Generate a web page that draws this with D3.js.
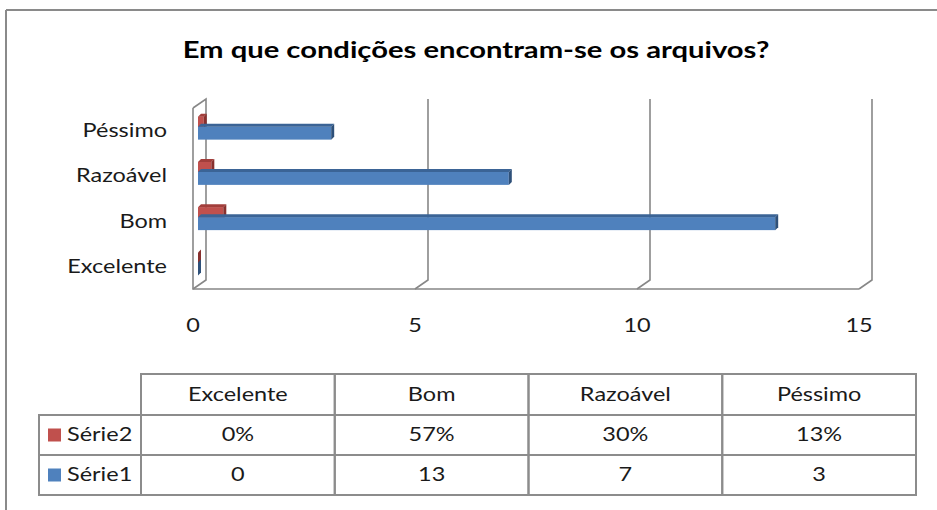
<!DOCTYPE html>
<html>
<head>
<meta charset="utf-8">
<script src="https://cdn.jsdelivr.net/npm/d3@7"></script>
<style>
  body { margin: 0; background: #fff; }
  svg { display: block; font-family: Lato, "Open Sans", sans-serif; }
  .lbl { font-size: 18.5px; fill: #1a1a1a; }
  .title { font-size: 23px; font-weight: bold; fill: #000; }
</style>
</head>
<body>
<div id="chart"></div>
<script>
// dados do gráfico
const categories = ['Excelente', 'Bom', 'Razoável', 'Péssimo'];
const serie1 = [0, 13, 7, 3];
const serie2 = [0, 0.57, 0.30, 0.13];
const seriesNames = ['Série1', 'Série2'];
const xTicks = [0, 5, 10, 15];
const title = 'Em que condições encontram-se os arquivos?';

const W = 937, H = 510;
const SX = 1.27; // o original está esticado na horizontal
const blue = { front: '#4F81BD', top: '#3B6496', side: '#2E5079' };
const red = { front: '#C0504D', top: '#A23E3B', side: '#87302E' };
const grid = '#878787';

const svg = d3.select('#chart').append('svg').attr('width', W).attr('height', H);

function txt(sel, x, y, s, anchor, cls) {
  return sel.append('text').attr('class', cls || 'lbl')
    .attr('transform', `translate(${x},${y}) scale(${SX},1)`)
    .attr('text-anchor', anchor || 'middle').attr('dy', '0.35em').text(s);
}

// moldura
svg.append('line').attr('x1', 6).attr('y1', 10).attr('x2', W).attr('y2', 10).attr('stroke', '#8a8a8a').attr('stroke-width', 2);
svg.append('line').attr('x1', 6).attr('y1', 10).attr('x2', 6).attr('y2', H).attr('stroke', '#8a8a8a').attr('stroke-width', 2);

txt(svg, 476, 50, title, 'middle', 'title');

const x = d3.scaleLinear().domain([0, 15]).range([193, 859]);
const y = d3.scaleBand().domain(categories).range([289, 108]);
const depth = [13, -9];
const floorY = 289, topY = 108;

// paredes e grade
const g = svg.append('g').attr('fill', 'none').attr('stroke', grid).attr('stroke-width', 1.6);
g.append('path').attr('d', `M${x(0)},${topY}L${x(0)},${floorY}L${x(15)},${floorY}`);
g.append('path').attr('d', `M${x(0)},${topY}L${x(0) + depth[0]},${topY + depth[1]}L${x(0) + depth[0]},${floorY + depth[1]}L${x(0)},${floorY}`);
xTicks.filter(t => t > 0).forEach(t => {
  g.append('path').attr('d', `M${x(t)},${floorY}L${x(t) + depth[0]},${floorY + depth[1]}L${x(t) + depth[0]},${topY + depth[1]}`);
});

const ticksG = svg.append('g');
xTicks.forEach(d => txt(ticksG, x(d), 326, d));

const catG = svg.append('g');
categories.forEach(c => txt(catG, 167, y(c) + y.bandwidth() / 2, c, 'end'));

// barras 3D
const bd = [3, -3];
const off = 5;
function bar3d(sel, v, yTop, h, c) {
  const x0 = x(0) + off, x1 = x(v) + off;
  sel.append('rect').attr('x', x0).attr('y', yTop).attr('width', x1 - x0).attr('height', h).attr('fill', c.front);
  sel.append('path').attr('fill', c.top)
    .attr('d', `M${x0},${yTop}L${x0 + bd[0]},${yTop + bd[1]}L${x1 + bd[0]},${yTop + bd[1]}L${x1},${yTop}Z`);
  sel.append('path').attr('fill', c.side)
    .attr('d', `M${x1},${yTop}L${x1 + bd[0]},${yTop + bd[1]}L${x1 + bd[0]},${yTop + h + bd[1]}L${x1},${yTop + h}Z`);
}
const bars = svg.append('g');
categories.forEach((c, i) => {
  const yc = y(c) + y.bandwidth() / 2;
  bar3d(bars.append('g'), serie2[i], yc - 14, 11.5, red);
  bar3d(bars.append('g'), serie1[i], yc - 4, 13, blue);
});

// tabela de dados
const colX = d3.scaleBand().domain(categories).range([141, 916]);
const legX = 39;
const rowH = 40;
const headTop = 374;
const rows = [
  { name: seriesNames[1], color: red.front, vals: serie2.map(d3.format('.0%')) },
  { name: seriesNames[0], color: blue.front, vals: serie1.map(String) }
];
const t = svg.append('g');
const tb = t.append('g').attr('fill', 'none').attr('stroke', '#8c8c8c').attr('stroke-width', 2);
tb.append('rect').attr('x', 141).attr('y', headTop).attr('width', 916 - 141).attr('height', 41);
categories.forEach(c => {
  tb.append('rect').attr('x', colX(c)).attr('y', headTop).attr('width', colX.bandwidth()).attr('height', 41 + rowH * 2);
  txt(t, colX(c) + colX.bandwidth() / 2, headTop + 20.5, c);
});
rows.forEach((r, ri) => {
  const ry = headTop + 41 + ri * rowH;
  tb.append('rect').attr('x', legX).attr('y', ry).attr('width', 916 - legX).attr('height', rowH);
  tb.append('line').attr('x1', 141).attr('x2', 141).attr('y1', ry).attr('y2', ry + rowH);
  t.append('rect').attr('x', 48).attr('y', ry + rowH / 2 - 6.5).attr('width', 13).attr('height', 13).attr('fill', r.color);
  txt(t, 67, ry + rowH / 2, r.name, 'start');
  r.vals.forEach((v, i) => txt(t, colX(categories[i]) + colX.bandwidth() / 2, ry + rowH / 2, v));
});
</script>
</body>
</html>
